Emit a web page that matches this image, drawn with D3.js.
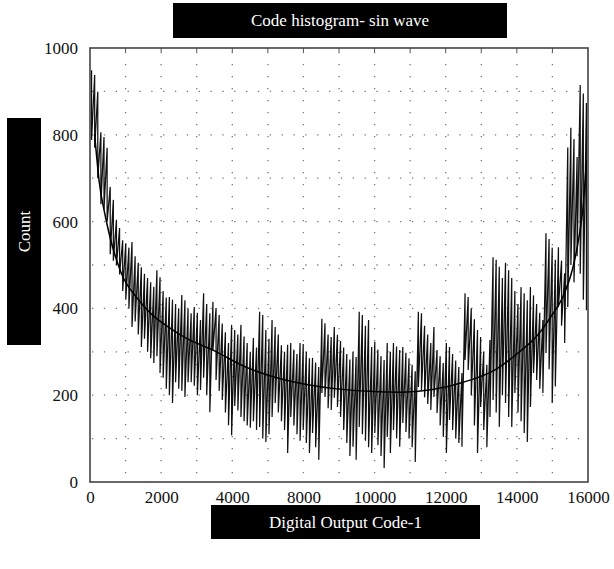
<!DOCTYPE html>
<html>
<head>
<meta charset="utf-8">
<script src="https://cdn.jsdelivr.net/npm/d3@7"></script>
<style>
	body { margin: 0; background: #fff; }
	svg text { font-family: "Liberation Serif", "DejaVu Serif", serif; }
</style>
</head>
<body>
<div id="chart"></div>
<script>
// histogram spikes, one per 100 codes
var spikeTop = [
	949, 938, 899, 806, 795, 770, 680, 650, 604, 585,
	557, 550, 540, 553, 520, 505, 495, 480, 470, 460,
	450, 488, 472, 440, 425, 426, 420, 410, 400, 431,
	419, 400, 389, 403, 390, 373, 435, 410, 389, 415,
	401, 385, 365, 345, 320, 362, 350, 340, 362, 335,
	320, 300, 332, 310, 392, 385, 350, 330, 373, 357,
	340, 315, 300, 316, 320, 305, 295, 320, 318, 300,
	285, 286, 275, 265, 376, 366, 340, 334, 357, 339,
	325, 310, 295, 282, 300, 288, 392, 385, 360, 373,
	311, 323, 305, 290, 281, 320, 300, 320, 312, 304,
	311, 298, 285, 270, 255, 392, 389, 360, 340, 320,
	357, 304, 290, 274, 320, 311, 295, 280, 265, 251,
	435, 426, 400, 375, 350, 334, 300, 270, 327, 518,
	512, 496, 470, 505, 488, 470, 440, 410, 449, 435,
	419, 449, 430, 410, 390, 373, 573, 560, 540, 512,
	541, 510, 481, 771, 816, 790, 749, 915, 895, 873
];
var spikeBottom = [
	788, 770, 700, 640, 628, 600, 525, 510, 500, 478,
	440, 420, 400, 357, 370, 340, 311, 330, 300, 285,
	274, 290, 251, 240, 215, 200, 182, 230, 215, 210,
	196, 230, 230, 222, 200, 212, 240, 200, 161, 304,
	235, 210, 189, 160, 131, 108, 175, 165, 150, 140,
	130, 125, 140, 120, 127, 100, 92, 110, 150, 182,
	160, 140, 120, 67, 150, 130, 110, 95, 120, 90,
	67, 113, 80, 51, 205, 196, 170, 166, 194, 173,
	150, 120, 90, 60, 81, 51, 127, 110, 95, 80,
	67, 113, 85, 60, 32, 104, 67, 120, 100, 81,
	136, 115, 100, 80, 46, 219, 212, 195, 180, 166,
	196, 159, 130, 104, 67, 143, 120, 100, 90, 81,
	281, 258, 200, 130, 67, 173, 120, 80, 150, 189,
	160, 127, 200, 182, 150, 127, 205, 160, 140, 113,
	92, 173, 251, 235, 215, 205, 297, 260, 182, 220,
	403, 360, 320, 403, 500, 460, 520, 480, 420, 396
];
var spikeCodes = d3.range(50, 16000, 100);

// smooth ideal sine-wave histogram
var curveCodes = [150, 300, 500, 1000, 1500, 2000, 2500, 3000, 4000, 5000, 6000, 7000, 8000, 9000, 10000, 11000, 12000, 13000, 13800, 14400, 14800, 15200, 15500, 15700, 15850, 15950];
var curveCounts = [800, 690, 610, 482, 425, 385, 358, 335, 302, 265, 240, 224, 214, 209, 207, 213, 230, 258, 300, 340, 380, 428, 490, 560, 640, 740];

// axis labels (as printed, evenly spaced)
var xTickLabels = ['0', '2000', '4000', '8000', '10000', '12000', '14000', '16000'];
var yTickValues = [0, 200, 400, 600, 800, 1000];

var width = 614, height = 569;
var pLeft = 90, pRight = 588, pTop = 48, pBottom = 482;

var svg = d3.select('#chart')
	.append('svg')
	.attr('width', width)
	.attr('height', height);

var x = d3.scaleLinear().domain([0, 16000]).range([pLeft, pRight]);
var y = d3.scaleLinear().domain([0, 1000]).range([pBottom, pTop]);
var xLabels = d3.scalePoint().domain(xTickLabels).range([pLeft, pRight]);

//dotted grid
svg.append('g')
	.selectAll('line')
	.data(d3.range(1, 14).map(function (i) { return i * 16000 / 14; }))
	.enter()
	.append('line')
	.attr('x1', function (d) { return x(d); })
	.attr('x2', function (d) { return x(d); })
	.attr('y1', pTop + 4)
	.attr('y2', pBottom)
	.attr('stroke', '#777')
	.attr('stroke-width', 1.3)
	.attr('stroke-dasharray', '1.3,10.7');

svg.append('g')
	.selectAll('line')
	.data(d3.range(100, 1000, 100))
	.enter()
	.append('line')
	.attr('x1', pLeft + 2)
	.attr('x2', pRight)
	.attr('y1', function (d) { return y(d); })
	.attr('y2', function (d) { return y(d); })
	.attr('stroke', '#777')
	.attr('stroke-width', 1.3)
	.attr('stroke-dasharray', '1.3,10.55');

//top tick marks
svg.append('g')
	.selectAll('line')
	.data(d3.range(1, 14).map(function (i) { return i * 16000 / 14; }))
	.enter()
	.append('line')
	.attr('x1', function (d) { return x(d); })
	.attr('x2', function (d) { return x(d); })
	.attr('y1', pTop)
	.attr('y2', pTop + 4)
	.attr('stroke', '#555')
	.attr('stroke-width', 1);

//histogram zigzag
var pts = [];
spikeCodes.forEach(function (c, i) {
	pts.push([x(c), y(spikeTop[i])]);
	pts.push([x(c), y(spikeBottom[i])]);
});
svg.append('path')
	.attr('d', d3.line()(pts))
	.attr('fill', 'none')
	.attr('stroke', '#111')
	.attr('stroke-width', 1.25);

//ideal curve
svg.append('path')
	.attr('d', d3.line()
		.x(function (d, i) { return x(curveCodes[i]); })
		.y(function (d) { return y(d); })
		.curve(d3.curveMonotoneX)(curveCounts))
	.attr('fill', 'none')
	.attr('stroke', '#000')
	.attr('stroke-width', 1.5);

//frame
svg.append('rect')
	.attr('x', pLeft)
	.attr('y', pTop)
	.attr('width', pRight - pLeft)
	.attr('height', pBottom - pTop)
	.attr('fill', 'none')
	.attr('stroke', '#444')
	.attr('stroke-width', 1.6);

//axes
var yAxis = svg.append('g')
	.attr('transform', 'translate(' + pLeft + ',0)')
	.call(d3.axisLeft(y).tickValues(yTickValues).tickFormat(d3.format('d')).tickSize(0).tickPadding(12));
var xAxis = svg.append('g')
	.attr('transform', 'translate(0,' + pBottom + ')')
	.call(d3.axisBottom(xLabels).tickSize(0).tickPadding(9));
[yAxis, xAxis].forEach(function (g) {
	g.select('.domain').remove();
	g.selectAll('text')
		.attr('fill', '#111')
		.style('font-size', '17px')
		.style('font-family', '"Liberation Serif", serif');
});

//label boxes
function labelBox(bx, by, bw, bh, text, rotate) {
	svg.append('rect')
		.attr('x', bx).attr('y', by)
		.attr('width', bw).attr('height', bh)
		.attr('fill', '#000');
	var cx = bx + bw / 2, cy = by + bh / 2;
	svg.append('text')
		.attr('x', cx).attr('y', cy)
		.attr('transform', rotate ? 'rotate(-90,' + cx + ',' + cy + ')' : null)
		.attr('text-anchor', 'middle')
		.attr('dominant-baseline', 'central')
		.attr('fill', '#fff')
		.style('font-size', '17px')
		.text(text);
}
labelBox(173, 3, 334, 35, 'Code histogram- sin wave', false);
labelBox(7, 118, 34, 227, 'Count', true);
labelBox(211, 505, 269, 34, 'Digital Output Code-1', false);
</script>
</body>
</html>
